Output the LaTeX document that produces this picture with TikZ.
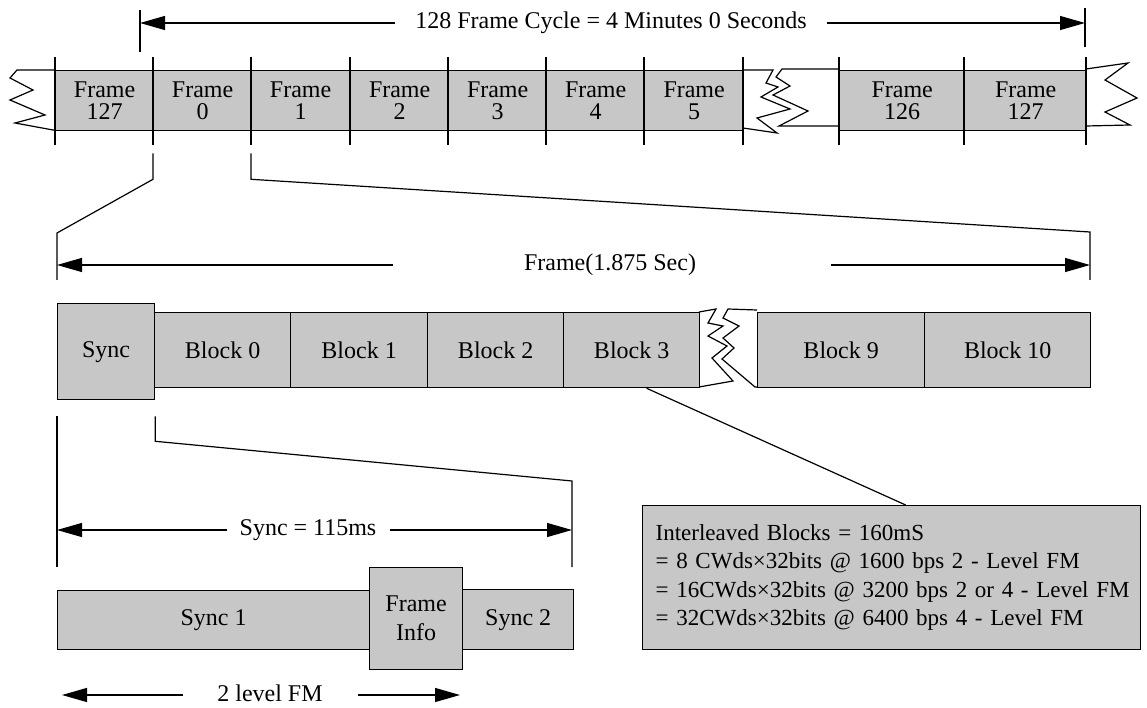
\documentclass[tikz,border=0pt]{standalone}
\usepackage{fontspec}
\setmainfont{Liberation Serif}
\usetikzlibrary{arrows.meta}
\definecolor{shade}{gray}{0.78}
\begin{document}
\begin{tikzpicture}[x=1pt,y=-1pt,
  ln/.style={line width=1.2pt},
  cell/.style={draw, line width=1.3pt, fill=shade, inner sep=0pt, anchor=north west,
               font=\fontsize{24}{22}\selectfont, align=center},
  lbl/.style={inner sep=0pt, font=\fontsize{24}{28}\selectfont},
  arr/.style={line width=1.2pt, -{Triangle[length=25pt,width=14pt]}},
  brk/.style={line width=1.2pt, fill=white, line join=miter}]
\useasboundingbox (0,0) rectangle (1147,708);

% ---------- top frame cycle ----------
\node[lbl] (title) at (611,23) {128 Frame Cycle = 4 Minutes 0 Seconds};
\coordinate (tL) at (140,23);
\coordinate (tR) at (1085,23);
\draw[ln] (140,10) -- (140,52);
\draw[ln] (1085,8) -- (1085,47);
\draw[arr] ([xshift=-20pt]title.west) -- (tL);
\draw[arr] ([xshift=20pt]title.east) -- (tR);

% breaks in the frame row (drawn first, cells on top)
\draw[brk] (55,70) -- (17,70) -- (10,78) -- (33,90) -- (10,100) -- (45,115) -- (15,123) -- (53,130) -- (55,130);
\draw[brk] (743,70) -- (773,70) -- (766,83) -- (778,87) -- (761,97) -- (790,109) -- (757,118) -- (777,133) -- (743,128);
\draw[brk] (839,69) -- (782,69) -- (776,77) -- (790,86) -- (773,95) -- (808,111) -- (779,126) -- (839,126);
\draw[brk] (1086,69) -- (1128,63) -- (1105,80) -- (1137,98) -- (1105,112) -- (1130,125) -- (1086,126);

\node[cell, minimum width=98pt, minimum height=60pt] (fa)   at (55,70)  {Frame\\127};
\node[cell, minimum width=98pt, minimum height=60pt] (f0)   at (153,70) {Frame\\0};
\node[cell, minimum width=98pt, minimum height=60pt] (f1)   at (251,70) {Frame\\1};
\node[cell, minimum width=98pt, minimum height=60pt] (f2)   at (350,70) {Frame\\2};
\node[cell, minimum width=98pt, minimum height=60pt] (f3)   at (448,70) {Frame\\3};
\node[cell, minimum width=98pt, minimum height=60pt] (f4)   at (546,70) {Frame\\4};
\node[cell, minimum width=99pt, minimum height=60pt] (f5)   at (644,70) {Frame\\5};
\node[cell, minimum width=125pt, minimum height=60pt] (f126) at (839,70) {Frame\\126};
\node[cell, minimum width=122pt, minimum height=60pt] (fb)   at (964,70) {Frame\\127};

\foreach \x in {55,153,251,350,448,546,644,743,839,964,1086}
  \draw[ln] (\x,57) -- (\x,145);

% zoom lines from frame 0
\draw[ln] ([yshift=-22pt]f0.south west) -- ([yshift=-48pt]f0.south west) -- (57,233) -- (57,280);
\draw[ln] ([yshift=-22pt]f1.south west) -- ([yshift=-48pt]f1.south west) -- (1090,232) -- (1090,280);

% ---------- frame ----------
\node[lbl] (ftitle) at (610,265) {Frame(1.875 Sec)};
\coordinate (fL) at (57,265);
\coordinate (fR) at (1090,265);
\draw[arr] ([xshift=-131pt]ftitle.west) -- (ftitle.west -| fL);
\draw[arr] ([xshift=135pt]ftitle.east) -- (ftitle.east -| fR);

\draw[brk] (699,312) -- (716,309) -- (708,323) -- (723,326) -- (708,336) -- (727,346) -- (712,358) -- (733,381) -- (699,387);
\draw[brk] (757,310) -- (728,309) -- (723,318) -- (739,326) -- (723,338) -- (734,348) -- (722,359) -- (755,387) -- (757,387);

\tikzset{blk/.style={cell, minimum height=75pt, font=\fontsize{24}{28}\selectfont}}
\node[cell, minimum width=97pt, minimum height=96pt, font=\fontsize{24}{28}\selectfont] (sync) at (57,303) {Sync};
\node[blk, minimum width=136pt] (b0)  at (154,312) {Block 0};
\node[blk, minimum width=137pt] (b1)  at (290,312) {Block 1};
\node[blk, minimum width=136pt] (b2)  at (427,312) {Block 2};
\node[blk, minimum width=136pt] (b3)  at (563,312) {Block 3};
\node[blk, minimum width=167pt] (b9)  at (757,312) {Block 9};
\node[blk, minimum width=166pt] (b10) at (924,312) {Block 10};

% ---------- sync detail ----------
\draw[ln] ([yshift=-16pt]sync.south west) -- (57,567);
\draw[ln] ([yshift=-16pt]sync.south east) -- ([yshift=-41pt]sync.south east) -- (572,481) -- (572,567);

\node[lbl] (stitle) at (308,530) {Sync = 115ms};
\coordinate (sL) at (57,530);
\coordinate (sR) at (572,530);
\draw[arr] ([xshift=-12pt]stitle.west) -- (stitle.west -| sL);
\draw[arr] ([xshift=13pt]stitle.east) -- (stitle.east -| sR);

\node[cell, minimum width=312pt, minimum height=59pt, font=\fontsize{24}{28}\selectfont] (s1) at (57,590) {Sync 1};
\node[cell, minimum width=111pt, minimum height=60pt, font=\fontsize{24}{28}\selectfont] (s2) at (462,589) {Sync 2};
\node[cell, minimum width=93pt, minimum height=102pt, font=\fontsize{24}{29}\selectfont] (fi) at (369,567) {Frame\\Info};

\node[lbl] (fm) at (270,693) {2 level FM};
\coordinate (mL) at (62,695);
\coordinate (mR) at (460,695);
\draw[arr] ([xshift=-34pt,yshift=-2pt]fm.west) -- ([yshift=-2pt]fm.west -| mL);
\draw[arr] ([xshift=35pt,yshift=-2pt]fm.east) -- ([yshift=-2pt]fm.east -| mR);

% ---------- interleaved blocks ----------
\node[draw, line width=1.3pt, fill=shade, anchor=north west, minimum height=144pt,
      text width=472pt, inner xsep=13pt, inner ysep=0pt, align=left,
      font=\fontsize{23}{28.5}\selectfont] (ib) at (642,505)
 {\mbox{Interleaved Blocks = 160mS}\\
  \mbox{= 8 CWds×32bits @ 1600 bps 2 - Level FM}\\
  \mbox{= 16CWds×32bits @ 3200 bps 2 or 4 - Level FM}\\
  \mbox{= 32CWds×32bits @ 6400 bps 4 - Level FM}};
\draw[ln] ([xshift=15pt]b3.south) -- ([xshift=14pt]ib.north);
\end{tikzpicture}
\end{document}
